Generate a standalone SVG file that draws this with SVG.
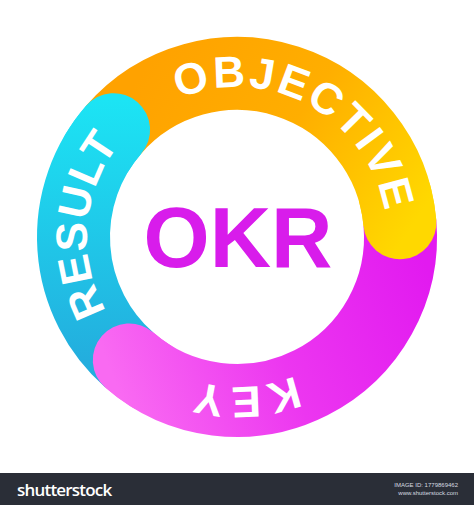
<svg xmlns="http://www.w3.org/2000/svg" xmlns:xlink="http://www.w3.org/1999/xlink" width="474" height="505" viewBox="0 0 474 505">
  <style>
    .band { fill: none; stroke-width: 73; }
    .butt { stroke-linecap: butt; }
    .cap { stroke-linecap: round; }
    .ring-label { font-family: "Liberation Sans", Arial, sans-serif; font-weight: bold; font-size: 44px; fill: #ffffff; }
    .center-label { font-family: "Liberation Sans", Arial, sans-serif; font-weight: bold; font-size: 85px; fill: #D81CEB; }
    .logo { font-family: "Open Sans", "Liberation Sans", sans-serif; font-weight: 600; font-size: 17px; letter-spacing: -0.8px; fill: #ffffff; }
    .small { font-family: "Liberation Sans", Arial, sans-serif; font-size: 6px; fill: #d8dbe0; }
  </style>
  <defs>
    <linearGradient id="gOrange" gradientUnits="userSpaceOnUse" x1="150" y1="60" x2="410" y2="230">
      <stop offset="0" stop-color="#FFA200"/>
      <stop offset="0.5" stop-color="#FFAE00"/>
      <stop offset="1" stop-color="#FFD800"/>
    </linearGradient>
    <linearGradient id="gMagenta" gradientUnits="userSpaceOnUse" x1="420" y1="250" x2="110" y2="370">
      <stop offset="0" stop-color="#E21AF0"/>
      <stop offset="0.5" stop-color="#EC36F0"/>
      <stop offset="1" stop-color="#F96AF2"/>
    </linearGradient>
    <linearGradient id="gCyan" gradientUnits="userSpaceOnUse" x1="0" y1="100" x2="0" y2="360">
      <stop offset="0" stop-color="#1CE4F4"/>
      <stop offset="1" stop-color="#23AEDE"/>
    </linearGradient>
    <path id="textCircle" d="M 162 366.904 A 150 150 0 1 1 312 107.096 A 150 150 0 1 1 162 366.904"/>
  </defs>

  <rect x="0" y="0" width="474" height="505" fill="#ffffff"/>

  <g id="connectors"></g>

  <g id="ring-bands">
    <path class="band butt" stroke="url(#gOrange)" d="M 113.60 129.73 A 163.5 163.5 0 0 1 399.88 222.75"/>
    <path class="band butt" stroke="url(#gMagenta)" d="M 399.88 222.75 A 163.5 163.5 0 0 1 129.30 360.02"/>
    <path class="band butt" stroke="url(#gCyan)" d="M 129.30 360.02 A 163.5 163.5 0 0 1 113.60 129.73"/>
  </g>

  <g id="objective">
    <path class="band cap" stroke="url(#gOrange)" d="M 394.93 194.68 A 163.5 163.5 0 0 1 399.88 222.75"/>
    <text class="ring-label" letter-spacing="2.5"><textPath xlink:href="#textCircle" href="#textCircle" startOffset="468.6" text-anchor="middle">OBJECTIVE</textPath></text>
  </g>

  <g id="key">
    <path class="band cap" stroke="url(#gMagenta)" d="M 152.30 376.85 A 163.5 163.5 0 0 1 129.30 360.02"/>
    <text class="ring-label" letter-spacing="4.5"><textPath xlink:href="#textCircle" href="#textCircle" startOffset="856.1" text-anchor="middle">KEY</textPath></text>
  </g>

  <g id="result">
    <path class="band cap" stroke="url(#gCyan)" d="M 96.85 152.79 A 163.5 163.5 0 0 1 113.60 129.73"/>
    <text class="ring-label" letter-spacing="1"><textPath xlink:href="#textCircle" href="#textCircle" startOffset="168.9" text-anchor="middle">RESULT</textPath></text>
  </g>

  <g id="okr">
    <text class="center-label" x="238" y="267" text-anchor="middle">OKR</text>
  </g>

  <g id="footer">
    <rect x="0" y="473" width="474" height="32" fill="#2A2E37"/>
    <text class="logo" x="17" y="496">shutterstock</text>
    <text class="small" x="458" y="487" text-anchor="end">IMAGE ID: 1779869462</text>
    <text class="small" x="458" y="495" text-anchor="end">www.shutterstock.com</text>
  </g>
</svg>
